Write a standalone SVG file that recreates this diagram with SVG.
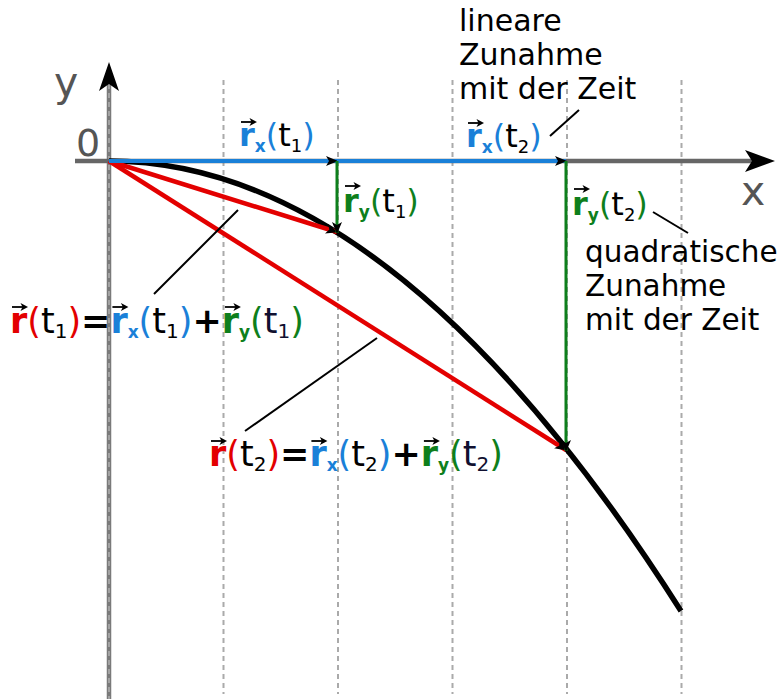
<svg xmlns="http://www.w3.org/2000/svg" xmlns:xlink="http://www.w3.org/1999/xlink" width="780" height="699" viewBox="0 0 780 699">
<style>
text{font-family:"DejaVu Sans","Liberation Sans",sans-serif;fill:#000}
.ax{fill:#555}
.b{font-weight:bold}
.red{fill:#e30000}.blue{fill:#1a80d8}.green{fill:#0e7f1c}
.grid{stroke:#aaa;stroke-width:2;stroke-dasharray:5 4;fill:none}
.lead{stroke:#000;stroke-width:2;fill:none}
</style>
<defs>
<marker id="ah" viewBox="0 0 12 10" refX="11" refY="5" markerWidth="12" markerHeight="10" orient="auto" markerUnits="userSpaceOnUse"><path d="M0,0L12,5L0,10L3,5Z" fill="#000"/></marker>
<g id="va"><path d="M0 0H11" stroke="#000" stroke-width="1.8"/><path d="M16 0L8.5-4L10.5 0L8.5 4Z" fill="#000"/></g>
</defs>
<rect width="780" height="699" fill="#fff"/>
<g id="grid">
<path class="grid" d="M223.5 80V694M338 80V694M452.5 80V694M567 80V694M681.5 80V694"/>
</g>
<g id="axes">
<path d="M109 84V699" stroke="#7a7a7a" stroke-width="4.5"/>
<path d="M109 84V699" stroke="#b0b0b0" stroke-width="1.5" stroke-dasharray="5 4"/>
<path d="M109 62L99 91L109 84L119 91Z" fill="#000"/>
<path d="M75 161H752" stroke="#666" stroke-width="4.5"/>
<path d="M775 161L745 150L752 161L745 172Z" fill="#000"/>
<text class="ax" x="54" y="96" font-size="41">y</text>
<text class="ax" x="76" y="156" font-size="38">0</text>
<text class="ax" x="741" y="205" font-size="41">x</text>
</g>
<g id="curve">
<path d="M109 161Q395 161 681 611" stroke="#000" stroke-width="5.5" fill="none"/>
</g>
<g id="connectors">
<path d="M109 161L337 232" stroke="#e30000" stroke-width="4.5" marker-end="url(#ah)"/>
<path d="M109 161L566 450" stroke="#e30000" stroke-width="4.5" marker-end="url(#ah)"/>
<path d="M109 161H337" stroke="#1a80d8" stroke-width="4" marker-end="url(#ah)"/>
<path d="M337 161H566" stroke="#1a80d8" stroke-width="4" marker-end="url(#ah)"/>
<path d="M337 161V233" stroke="#0e7f1c" stroke-width="3" marker-end="url(#ah)"/>
<path d="M566 161V451" stroke="#0e7f1c" stroke-width="3" marker-end="url(#ah)"/>
<path class="lead" d="M238 210L154 294"/>
<path class="lead" d="M377 338L245 431"/>
<path class="lead" d="M550 136L579 110"/>
<path class="lead" d="M653 212L688 233"/>
</g>
<g id="label-rx-t1">
<text y="146" font-size="32"><tspan x="239" class="b blue">r</tspan><tspan class="b blue" font-size="17" dy="6">x</tspan><tspan class="blue" dy="-6">(</tspan><tspan>t</tspan><tspan font-size="18" dy="6">1</tspan><tspan class="blue" dy="-6">)</tspan></text>
<use xlink:href="#va" x="241" y="122"/>
</g>
<g id="label-rx-t2">
<text y="147" font-size="32"><tspan x="466" class="b blue">r</tspan><tspan class="b blue" font-size="17" dy="6">x</tspan><tspan class="blue" dy="-6">(</tspan><tspan>t</tspan><tspan font-size="18" dy="6">2</tspan><tspan class="blue" dy="-6">)</tspan></text>
<use xlink:href="#va" x="468" y="123"/>
</g>
<g id="label-ry-t1">
<text y="212" font-size="32"><tspan x="343" class="b green">r</tspan><tspan class="b green" font-size="17" dy="6">y</tspan><tspan class="green" dy="-6">(</tspan><tspan>t</tspan><tspan font-size="18" dy="6">1</tspan><tspan class="green" dy="-6">)</tspan></text>
<use xlink:href="#va" x="345" y="186"/>
</g>
<g id="label-ry-t2">
<text y="215" font-size="32"><tspan x="572" class="b green">r</tspan><tspan class="b green" font-size="17" dy="6">y</tspan><tspan class="green" dy="-6">(</tspan><tspan>t</tspan><tspan font-size="18" dy="6">2</tspan><tspan class="green" dy="-6">)</tspan></text>
<use xlink:href="#va" x="574" y="189"/>
</g>
<g id="note-linear">
<text font-size="30"><tspan x="459" y="31">lineare</tspan><tspan x="459" y="65">Zunahme</tspan><tspan x="459" y="99">mit der Zeit</tspan></text>
</g>
<g id="note-quadratic">
<text font-size="29.5"><tspan x="585" y="262">quadratische</tspan><tspan x="585" y="296">Zunahme</tspan><tspan x="585" y="330">mit der Zeit</tspan></text>
</g>
<g id="formula-t1">
<text y="333" font-size="35"><tspan x="10" class="b red">r</tspan><tspan class="red">(</tspan><tspan>t</tspan><tspan font-size="20" dy="5">1</tspan><tspan class="red" dy="-5">)</tspan><tspan class="b">=</tspan><tspan class="b blue">r</tspan><tspan class="b blue" font-size="17" dy="5">x</tspan><tspan class="blue" dy="-5">(</tspan><tspan>t</tspan><tspan font-size="20" dy="5">1</tspan><tspan class="blue" dy="-5">)</tspan><tspan class="b">+</tspan><tspan class="b green">r</tspan><tspan class="b green" font-size="17" dy="5">y</tspan><tspan class="green" dy="-5">(</tspan><tspan fill="#101030">t</tspan><tspan fill="#101030" font-size="20" dy="5">1</tspan><tspan class="green" dy="-5">)</tspan></text>
<use xlink:href="#va" x="12" y="307"/>
<use xlink:href="#va" x="112.4" y="307"/>
<use xlink:href="#va" x="224.9" y="307"/>
</g>
<g id="formula-t2">
<text y="466" font-size="35"><tspan x="209" class="b red">r</tspan><tspan class="red">(</tspan><tspan>t</tspan><tspan font-size="20" dy="5">2</tspan><tspan class="red" dy="-5">)</tspan><tspan class="b">=</tspan><tspan class="b blue">r</tspan><tspan class="b blue" font-size="17" dy="5">x</tspan><tspan class="blue" dy="-5">(</tspan><tspan>t</tspan><tspan font-size="20" dy="5">2</tspan><tspan class="blue" dy="-5">)</tspan><tspan class="b">+</tspan><tspan class="b green">r</tspan><tspan class="b green" font-size="17" dy="5">y</tspan><tspan class="green" dy="-5">(</tspan><tspan fill="#101030">t</tspan><tspan fill="#101030" font-size="20" dy="5">2</tspan><tspan class="green" dy="-5">)</tspan></text>
<use xlink:href="#va" x="211" y="441"/>
<use xlink:href="#va" x="311.4" y="441"/>
<use xlink:href="#va" x="423.9" y="441"/>
</g>
</svg>
